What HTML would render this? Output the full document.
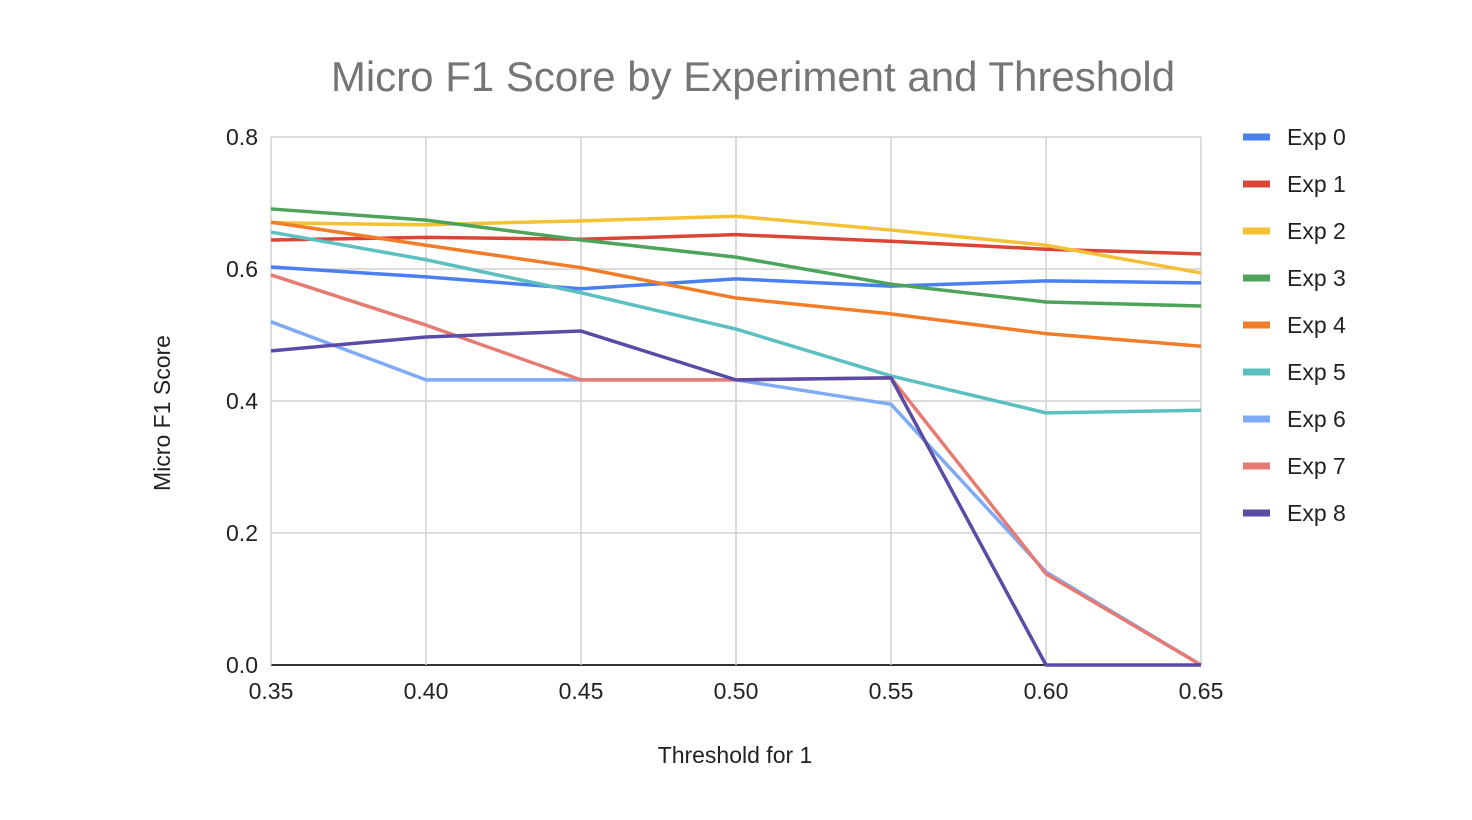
<!DOCTYPE html>
<html><head><meta charset="utf-8"><style>
body{margin:0;background:#fff;}
svg{display:block;font-family:"Liberation Sans",Arial,sans-serif;}
</style></head><body>
<svg id="chart" width="1472" height="820">
<text x="753" y="91" text-anchor="middle" font-size="42" fill="#757575">Micro F1 Score by Experiment and Threshold</text>
<g id="grid"></g><g id="series"></g><g id="legend"></g>
<text x="735" y="763" text-anchor="middle" font-size="23" fill="#222">Threshold for 1</text>
<text transform="translate(170,413) rotate(-90)" text-anchor="middle" font-size="23" fill="#222">Micro F1 Score</text>
</svg>
<script>
const categories=["0.35","0.40","0.45","0.50","0.55","0.60","0.65"];
const yTicks=[0,0.2,0.4,0.6,0.8];
const seriesNames=["Exp 0","Exp 1","Exp 2","Exp 3","Exp 4","Exp 5","Exp 6","Exp 7","Exp 8"];
const colors=["#4a7ff0","#db4437","#f4c034","#4ea35a","#f27c28","#5cc0c0","#7faaf5","#e57b72","#5b4ba6"];
const exp0=[0.603,0.588,0.570,0.585,0.574,0.582,0.579];
const exp1=[0.644,0.648,0.645,0.652,0.642,0.630,0.623];
const exp2=[0.670,0.667,0.673,0.680,0.659,0.636,0.594];
const exp3=[0.691,0.674,0.644,0.618,0.577,0.550,0.544];
const exp4=[0.671,0.636,0.602,0.556,0.532,0.502,0.483];
const exp5=[0.656,0.614,0.564,0.509,0.438,0.382,0.386];
const exp6=[0.520,0.432,0.432,0.432,0.395,0.141,0];
const exp7=[0.591,0.515,0.432,0.432,0.435,0.138,0];
const exp8=[0.476,0.497,0.506,0.432,0.435,0,0];
const allSeries=[exp0,exp1,exp2,exp3,exp4,exp5,exp6,exp7,exp8];
const NS="http://www.w3.org/2000/svg";
const x0=271,x1=1201,y0=665,y1=137;
const xs=i=>x0+(x1-x0)*i/(categories.length-1);
const ys=v=>y0-(y0-y1)*v/0.8;
function mk(t,a,p){const e=document.createElementNS(NS,t);for(const k in a)e.setAttribute(k,a[k]);p.appendChild(e);return e;}
const g=document.getElementById('grid');
yTicks.forEach(v=>{
 const l=mk('line',{x1:x0,x2:x1,y1:ys(v),y2:ys(v),stroke:v===0?'#333':'#d0d0d0','stroke-width':v===0?2:1.5},g);
 
 
 const t=mk('text',{x:258,y:ys(v)+8,'text-anchor':'end','font-size':23,fill:'#222'},g);t.textContent=v.toFixed(1);
 
 
});
categories.forEach((c,i)=>{
 const l=mk('line',{x1:xs(i),x2:xs(i),y1:y1,y2:y0,stroke:'#d0d0d0','stroke-width':1.5},g);
 
 
 const t=mk('text',{x:xs(i),y:699,'text-anchor':'middle','font-size':23,fill:'#222'},g);t.textContent=c;
 
 
});
const s=document.getElementById('series'),lg=document.getElementById('legend');
allSeries.forEach((d,k)=>{
 const p=mk('polyline',{points:d.map((v,i)=>xs(i)+','+ys(v)).join(' '),fill:'none',stroke:colors[k],'stroke-width':3.5,'stroke-linejoin':'round'},s);
 
 
 const y=137+47*k;
 const r=mk('rect',{x:1243,y:y-3.5,width:27,height:7,fill:colors[k]},lg);
 
 
 const t=mk('text',{x:1287,y:y+8,'font-size':23,fill:'#222'},lg);t.textContent=seriesNames[k];
 
 
});
</script>
</body></html>
